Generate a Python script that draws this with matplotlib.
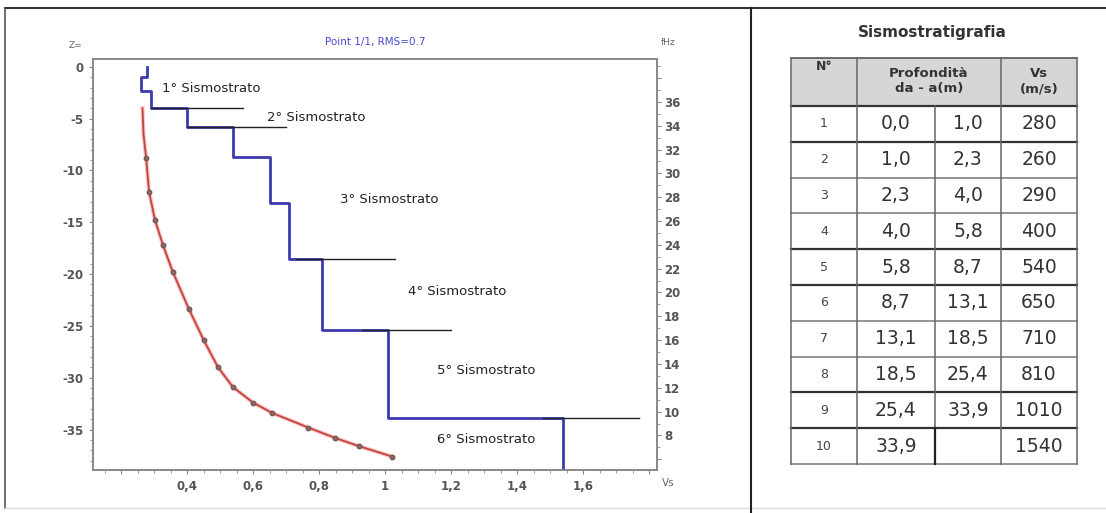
import numpy as np
import matplotlib
matplotlib.use('Agg')
import matplotlib.pyplot as plt
from matplotlib.ticker import MultipleLocator, FuncFormatter

# ---- data ----
layer_no = [1, 2, 3, 4, 5, 6, 7, 8, 9, 10]
depth_from = [0.0, 1.0, 2.3, 4.0, 5.8, 8.7, 13.1, 18.5, 25.4, 33.9]
depth_to = [1.0, 2.3, 4.0, 5.8, 8.7, 13.1, 18.5, 25.4, 33.9, None]
vs_ms = [280, 260, 290, 400, 540, 650, 710, 810, 1010, 1540]

# curva di dispersione
curve_vs = [0.265, 0.268, 0.276, 0.285, 0.303, 0.327, 0.357, 0.406, 0.451, 0.494,
            0.539, 0.600, 0.658, 0.767, 0.848, 0.921, 1.021]
curve_z = [-4.0, -6.5, -8.8, -12.1, -14.8, -17.2, -19.8, -23.4, -26.4, -29.0,
           -30.9, -32.4, -33.4, -34.8, -35.8, -36.6, -37.6]
curve_mark = [False, False] + [True] * 15

# limiti sismostrati (linee nere)
bound_z = [-4.0, -5.8, -18.5, -25.4, -33.9]
bound_x0 = [0.29, 0.40, 0.73, 0.93, 1.48]
bound_x1 = [0.57, 0.70, 1.03, 1.20, 1.77]

strato_lbl = ['1° Sismostrato', '2° Sismostrato', '3° Sismostrato',
              '4° Sismostrato', '5° Sismostrato', '6° Sismostrato']
strato_x = [0.324, 0.642, 0.864, 1.07, 1.157, 1.157]
strato_z = [-2.1, -4.9, -12.8, -21.7, -29.3, -36.0]

W, H = 1106, 513
def fx(x): return x / W
def fy(y): return 1 - y / H

fig = plt.figure(figsize=(W / 100, H / 100), dpi=100)
fig.patch.set_facecolor('white')

# ---- overlay in pixel per cornice e tabella ----
bg = fig.add_axes([0, 0, 1, 1])
bg.set_xlim(0, W); bg.set_ylim(H, 0); bg.axis('off')
bg.plot([5, W], [8, 8], color='#333333', lw=1.5)
bg.plot([5, 5], [8, 508], color='#555555', lw=1.2)
bg.plot([5, W], [508, 508], color='#dddddd', lw=1.0)
bg.plot([751, 751], [8, H], color='#222222', lw=1.5)

# ---- grafico ----
ax = fig.add_axes([fx(93), fy(470), fx(657) - fx(93), fy(59) - fy(470)])
ax.set_xlim(0.115, 1.824)
ax.set_ylim(-38.9, 0.75)

# profilo Vs a gradini
vs_km = np.array(vs_ms) / 1000.0
zs = [-d for d in depth_from] + [-38.9]
sx, sy = [], []
for i, v in enumerate(vs_km):
    sx += [v, v]; sy += [zs[i], zs[i + 1]]
ax.plot(sx, sy, color='#3b3bb0', lw=2.0, zorder=3)

for z, a, b in zip(bound_z, bound_x0, bound_x1):
    ax.plot([a, b], [z, z], color='#222222', lw=1.0, zorder=4)

ax.plot(curve_vs, curve_z, color='#f0a0a0', lw=3.0, alpha=0.6, zorder=5)
ax.plot(curve_vs, curve_z, color='#c8423c', lw=1.3, zorder=5)
mx = [x for x, m in zip(curve_vs, curve_mark) if m]
mz = [z for z, m in zip(curve_z, curve_mark) if m]
ax.plot(mx, mz, 'o', ms=3.2, color='#8c6a6a', mec='#7a5555', zorder=6)

for t, x, z in zip(strato_lbl, strato_x, strato_z):
    ax.text(x, z, t, fontsize=9.5, color='#222222', va='center', ha='left',
            family='DejaVu Sans')

for s in ax.spines.values():
    s.set_color('#888888'); s.set_linewidth(1.2)

ax.yaxis.set_major_locator(MultipleLocator(5))
ax.yaxis.set_minor_locator(MultipleLocator(1))
ax.xaxis.set_major_locator(MultipleLocator(0.2))
ax.xaxis.set_minor_locator(MultipleLocator(0.05))
ax.xaxis.set_major_formatter(FuncFormatter(
    lambda v, p: ('%g' % round(v, 2)).replace('.', ',') if 0.3 < v < 1.7 else ''))
ax.yaxis.set_major_formatter(FuncFormatter(lambda v, p: '%d' % v))
ax.tick_params(which='both', direction='out', color='#888888')
ax.tick_params(which='major', length=3, labelsize=8.5, labelcolor='#555555', pad=4)
ax.tick_params(which='minor', length=2)
for lab in ax.get_xticklabels() + ax.get_yticklabels():
    lab.set_fontweight('bold')

# asse frequenze a destra
ax2 = ax.twinx()
ax2.set_ylim(5.1, 39.6)
ax2.yaxis.set_major_locator(MultipleLocator(2))
ax2.yaxis.set_minor_locator(MultipleLocator(1))
ax2.yaxis.set_major_formatter(FuncFormatter(lambda v, p: '%d' % v if 8 <= v <= 36 else ''))
ax2.tick_params(which='both', direction='out', color='#888888')
ax2.tick_params(which='major', length=3, labelsize=8.5, labelcolor='#555555', pad=2)
ax2.tick_params(which='minor', length=2)
for lab in ax2.get_yticklabels():
    lab.set_fontweight('bold')
for s in ax2.spines.values():
    s.set_color('#888888'); s.set_linewidth(1.2)

fig.text(fx(375), fy(42), 'Point 1/1, RMS=0.7', color='#4a4ad0', fontsize=7.5,
         ha='center', va='center')
fig.text(fx(75), fy(45), 'Z=', color='#666666', fontsize=6.5, ha='center', va='center')
fig.text(fx(668), fy(43), 'fHz', color='#666666', fontsize=6.5, ha='center', va='center')
fig.text(fx(668), fy(483), 'Vs', color='#666666', fontsize=7.5, ha='center', va='center')

# ---- tabella ----
cols = [791, 857, 935, 1001, 1077]
top, hbot, tbot = 58, 106, 464
rh = (tbot - hbot) / len(layer_no)
bg.fill_between([cols[0], cols[-1]], top, hbot, color='#d6d6d6', lw=0)
bg.text(932, 33, 'Sismostratigrafia', fontsize=11, fontweight='bold',
        color='#333333', ha='center', va='center')
lc = '#555555'
bg.plot([cols[0], cols[-1]], [top, top], color=lc, lw=1.2)
for k in range(len(layer_no) + 1):
    y = hbot + k * rh
    bold = k in (0, 1, 4, 5, 8, 9)
    bg.plot([cols[0], cols[-1]], [y, y], color='#333333' if bold else '#777777',
            lw=1.6 if bold else 1.1)
for c in (cols[0], cols[1], cols[3], cols[4]):
    bg.plot([c, c], [top, tbot], color='#666666', lw=1.1)
bg.plot([cols[2], cols[2]], [hbot, tbot], color='#666666', lw=1.1)
bg.plot([cols[2], cols[2]], [hbot + 9 * rh, tbot], color='#222222', lw=1.6)

bg.text(824, 66, 'N°', fontsize=9, fontweight='bold', color='#333333', ha='center', va='center')
bg.text(929, 81, 'Profondità\nda - a(m)', fontsize=9.5, fontweight='bold', color='#333333',
        ha='center', va='center', linespacing=1.25)
bg.text(1039, 81, 'Vs\n(m/s)', fontsize=9.5, fontweight='bold', color='#333333',
        ha='center', va='center', linespacing=1.25)

def fmt(v):
    return '' if v is None else ('%.1f' % v).replace('.', ',')

for k, (n, a, b, v) in enumerate(zip(layer_no, depth_from, depth_to, vs_ms)):
    yc = hbot + (k + 0.5) * rh
    bg.text(824, yc, str(n), fontsize=9, color='#444444', ha='center', va='center')
    bg.text(896, yc, fmt(a), fontsize=13.5, color='#333333', ha='center', va='center')
    bg.text(968, yc, fmt(b), fontsize=13.5, color='#333333', ha='center', va='center')
    bg.text(1039, yc, str(v), fontsize=13.5, color='#333333', ha='center', va='center')

fig.savefig('out.png', dpi=100)
